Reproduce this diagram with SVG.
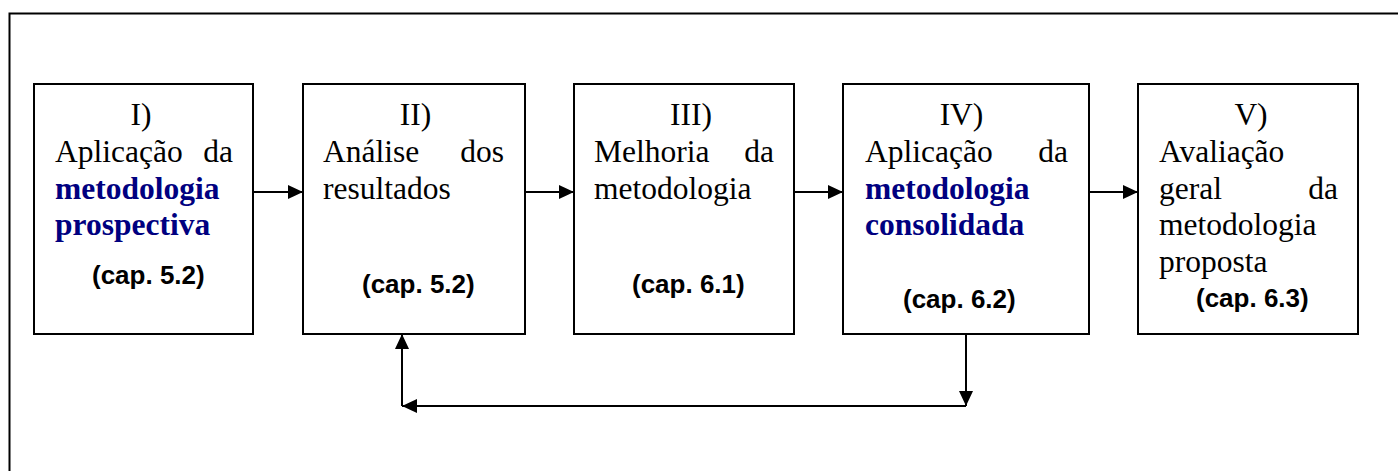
<svg xmlns="http://www.w3.org/2000/svg" width="1398" height="471" viewBox="0 0 1398 471">
  <style>
    .frame { fill: none; stroke: #000; stroke-width: 2; }
    .box { fill: #fff; stroke: #000; stroke-width: 2; }
    .t { font-family: "Liberation Serif", "Times New Roman", serif; font-size: 31.5px; fill: #000; }
    .b { font-family: "Liberation Serif", "Times New Roman", serif; font-size: 31.5px; font-weight: bold; fill: #000080; }
    .c { font-family: "Liberation Sans", Arial, sans-serif; font-size: 26px; font-weight: bold; fill: #000; }
    .mid { text-anchor: middle; }
    .end { text-anchor: end; }
    .conn { stroke: #000; stroke-width: 2; fill: none; marker-end: url(#head); }
  </style>
  <defs>
    <marker id="head" viewBox="0 0 15 14" refX="15" refY="7" markerWidth="15" markerHeight="14" markerUnits="userSpaceOnUse" orient="auto">
      <path d="M0,0 L15,7 L0,14 Z" fill="#000"/>
    </marker>
  </defs>

  <rect width="1398" height="471" fill="#fff"/>

  <!-- outer frame, open to the right and bottom -->
  <rect class="frame" x="9.5" y="13.5" width="1400" height="470"/>

  <g id="connectors">
    <line class="conn" x1="253" y1="192" x2="303" y2="192"/>
    <line class="conn" x1="525" y1="192" x2="574" y2="192"/>
    <line class="conn" x1="794" y1="192" x2="843" y2="192"/>
    <line class="conn" x1="1089" y1="192" x2="1138" y2="192"/>
    <!-- feedback loop from IV back to II -->
    <line class="conn" x1="966" y1="334" x2="966" y2="406"/>
    <line class="conn" x1="966" y1="406" x2="402" y2="406"/>
    <line class="conn" x1="402" y1="406" x2="402" y2="334"/>
  </g>

  <g id="step1">
    <rect class="box" x="34" y="84" width="219" height="250"/>
    <text class="t mid" x="141" y="125">I)</text>
    <text class="t" x="55" y="161.8">Aplicação</text>
    <text class="t end" x="233" y="161.8">da</text>
    <text class="b" x="55" y="198.6">metodologia</text>
    <text class="b" x="55" y="235.4">prospectiva</text>
    <text class="c" x="92" y="284">(cap. 5.2)</text>
  </g>

  <g id="step2">
    <rect class="box" x="303" y="84" width="222" height="250"/>
    <text class="t mid" x="415.5" y="125">II)</text>
    <text class="t" x="323" y="161.8">Análise</text>
    <text class="t end" x="504" y="161.8">dos</text>
    <text class="t" x="323" y="198.6">resultados</text>
    <text class="c" x="362" y="293">(cap. 5.2)</text>
  </g>

  <g id="step3">
    <rect class="box" x="574" y="84" width="220" height="250"/>
    <text class="t mid" x="691" y="125">III)</text>
    <text class="t" x="594" y="161.8">Melhoria</text>
    <text class="t end" x="774" y="161.8">da</text>
    <text class="t" x="594" y="198.6">metodologia</text>
    <text class="c" x="632" y="293">(cap. 6.1)</text>
  </g>

  <g id="step4">
    <rect class="box" x="843" y="84" width="246" height="250"/>
    <text class="t mid" x="961.5" y="125">IV)</text>
    <text class="t" x="865" y="161.8">Aplicação</text>
    <text class="t end" x="1068" y="161.8">da</text>
    <text class="b" x="865" y="198.6">metodologia</text>
    <text class="b" x="865" y="235.4">consolidada</text>
    <text class="c" x="903" y="308">(cap. 6.2)</text>
  </g>

  <g id="step5">
    <rect class="box" x="1138" y="84" width="220" height="250"/>
    <text class="t mid" x="1251" y="125">V)</text>
    <text class="t" x="1159" y="161.8">Avaliação</text>
    <text class="t" x="1159" y="198.6">geral</text>
    <text class="t end" x="1338" y="198.6">da</text>
    <text class="t" x="1159" y="235.4">metodologia</text>
    <text class="t" x="1159" y="272.2">proposta</text>
    <text class="c" x="1196" y="307">(cap. 6.3)</text>
  </g>
</svg>
